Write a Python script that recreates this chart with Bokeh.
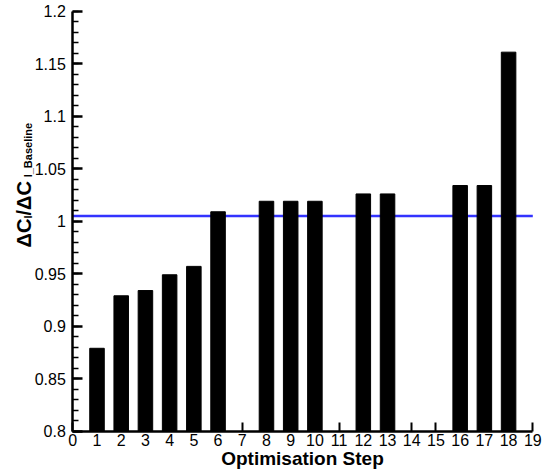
import math

from bokeh.embed import file_html
from bokeh.models import CustomJSTickFormatter, FixedTicker, Label
from bokeh.plotting import figure
from bokeh.resources import INLINE

# Lift ratio for each optimisation step that produced a result
steps = [1, 2, 3, 4, 5, 6, 8, 9, 10, 12, 13, 16, 17, 18]
ratios = [0.879, 0.929, 0.934, 0.949, 0.957, 1.009, 1.019, 1.019, 1.019,
          1.026, 1.026, 1.034, 1.034, 1.161]

# Reference level drawn as a horizontal line
reference_level = 1.005

x_ticks = list(range(0, 20))
y_ticks = [0.8, 0.85, 0.9, 0.95, 1.0, 1.05, 1.1, 1.15, 1.2]
y_minor_ticks = [round(0.8 + 0.01 * i, 2) for i in range(41)]

FONT = "Liberation Sans"

# The frame fills the whole canvas; both axes are pinned at the data origin
# (step 0, ratio 0.8) so their labels and the y title are never clipped.
p = figure(
    frame_width=543, frame_height=476,
    min_border_left=0, min_border_right=0,
    min_border_top=0, min_border_bottom=0,
    x_range=(-2.986, 19.442), y_range=(0.7569, 1.2102),
    output_backend="svg", toolbar_location=None,
)
p.outline_line_color = None
p.xgrid.visible = False
p.ygrid.visible = False
p.background_fill_color = "white"
p.border_fill_color = "white"

# Reference line spans the step axis, underneath the bars
p.segment(x0=x_ticks[0], x1=x_ticks[-1], y0=reference_level, y1=reference_level,
          line_color="#3333ff", line_width=2.5)

p.vbar(x=steps, top=ratios, bottom=y_ticks[0], width=0.6,
       fill_color="black", line_color="black")

# y axis: inward ticks, trimmed decimal labels
yax = p.yaxis[0]
yax.fixed_location = x_ticks[0]
yax.bounds = (y_ticks[0], y_ticks[-1])
yax.ticker = FixedTicker(ticks=y_ticks, minor_ticks=y_minor_ticks)
yax.formatter = CustomJSTickFormatter(code="return String(Number(tick.toFixed(2)));")
yax.major_tick_in = 10
yax.major_tick_out = 0
yax.minor_tick_in = 6
yax.minor_tick_out = 0
yax.axis_line_width = 2.5
yax.major_tick_line_width = 2.5
yax.minor_tick_line_width = 1.5
yax.major_label_standoff = 7
yax.major_label_text_font = FONT
yax.major_label_text_font_size = "16px"
yax.major_label_text_color = "black"

# x axis: integer steps, drawn only over the step range
xax = p.xaxis[0]
xax.fixed_location = y_ticks[0]
xax.bounds = (x_ticks[0], x_ticks[-1])
xax.ticker = FixedTicker(ticks=x_ticks)
xax.major_tick_in = 9
xax.major_tick_out = 0
xax.minor_tick_line_color = None
xax.axis_line_width = 2.5
xax.major_tick_line_width = 2
xax.major_label_standoff = 3
xax.major_label_text_font = FONT
xax.major_label_text_font_size = "16px"
xax.major_label_text_color = "black"
xax.axis_label = "Optimisation Step"
xax.axis_label_text_font = FONT
xax.axis_label_text_font_style = "bold"
xax.axis_label_text_font_size = "19px"
xax.axis_label_text_color = "black"
xax.axis_label_standoff = -2

# y axis title built from pieces so the subscripts can be smaller and lowered
title_parts = [
    ("\u0394C", "20px", -1.995, 0.975),
    ("l", "11px", -1.85, 1.0026),
    ("/\u0394C", "20px", -1.995, 1.0054),
    ("l_Baseline", "11px", -1.85, 1.0418),
]
for txt, size, xpos, ypos in title_parts:
    p.add_layout(Label(
        x=xpos, y=ypos, x_units="data", y_units="data", text=txt,
        angle=math.pi / 2, text_font=FONT, text_font_style="bold",
        text_font_size=size, text_color="black",
        text_align="left", text_baseline="alphabetic",
    ))

open("out.html", "w").write(file_html(p, INLINE))
